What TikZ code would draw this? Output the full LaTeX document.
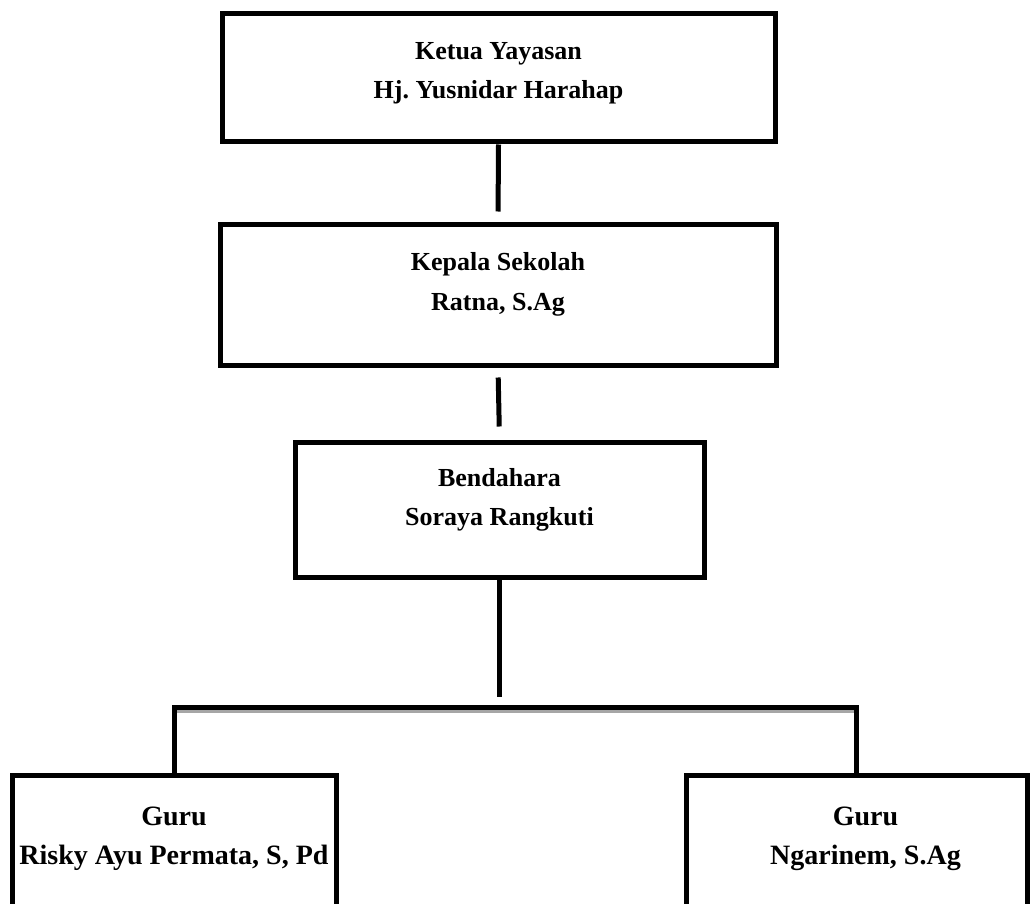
\documentclass[tikz,border=0pt]{standalone}
\usepackage{fontspec}
\setmainfont{Liberation Serif}
\usetikzlibrary{positioning}
\frenchspacing

\begin{document}
\begin{tikzpicture}[x=1pt,y=-1pt,
    kotak/.style={draw,line width=5pt,inner sep=0pt},
    teks/.style={align=center,inner sep=0pt,font=\fontsize{26}{39.5}\selectfont\bfseries},
    teksbawah/.style={teks,font=\fontsize{28}{39}\selectfont\bfseries},
    garis/.style={line width=5pt}]
    \useasboundingbox (0,0) rectangle (1030,904);
    % kotak-kotak
    \node[kotak,minimum width=553pt,minimum height=128pt] (ketua) at (498.5,78) {};
    \node[kotak,minimum width=556pt,minimum height=141pt] (kepsek) at (498,294.5) {};
    \node[kotak,minimum width=409pt,minimum height=135pt] (bendahara) at (499.5,509.5) {};
    \node[kotak,minimum width=324pt,minimum height=140pt] (guru1) at (174,845) {};
    \node[kotak,minimum width=341pt,minimum height=140pt] (guru2) at (856.5,845) {};
    % isi
    \node[teks,below=30.5pt of ketua.north] (ketua-t) {Ketua Yayasan\\Hj. Yusnidar Harahap};
    \node[teks,below=31pt of kepsek.north] (kepsek-t) {Kepala Sekolah\\Ratna, S.Ag};
    \node[teks,below=28.5pt of bendahara.north] (bendahara-t) {Bendahara\\Soraya Rangkuti};
    \node[teksbawah,below=34pt of guru1.north] (guru1-t) {Guru\\Risky Ayu Permata, S, Pd};
    \node[teksbawah,below=34pt of guru2.north,xshift=9pt] (guru2-t) {Guru\\Ngarinem, S.Ag};
    % garis
    \coordinate (cabang) at (bendahara.south |- 0,707);
    \draw[garis,shorten >=10pt] (ketua.south) -- (kepsek.north);
    \draw[garis,shorten <=10pt,shorten >=13pt] (kepsek.south) -- (bendahara.north);
    \draw[garis,shorten >=10pt] (bendahara.south) -- (cabang);
    \draw[gray!70,line width=3.5pt] ([yshift=-4.5pt]guru1.north |- cabang) -- ([yshift=-4.5pt]guru2.north |- cabang);
    \draw[garis] (guru1.north) |- (cabang) -| (guru2.north);
\end{tikzpicture}
\end{document}
